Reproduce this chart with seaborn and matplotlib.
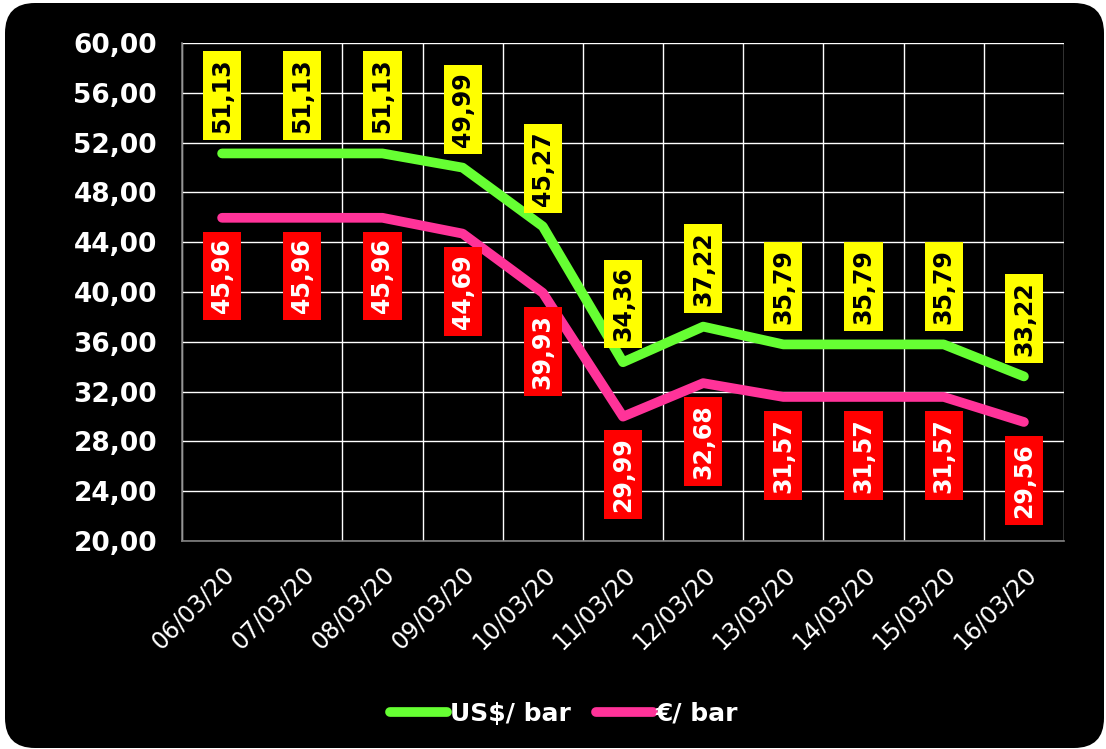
import numpy as np
import pandas as pd
import matplotlib
matplotlib.use("Agg")
import matplotlib.pyplot as plt
import seaborn as sns
from matplotlib.patches import FancyBboxPatch
from matplotlib.ticker import FixedLocator

# data
dates = ["06/03/20", "07/03/20", "08/03/20", "09/03/20", "10/03/20", "11/03/20",
         "12/03/20", "13/03/20", "14/03/20", "15/03/20", "16/03/20"]
usd_bar = [51.13, 51.13, 51.13, 49.99, 45.27, 34.36, 37.22, 35.79, 35.79, 35.79, 33.22]
eur_bar = [45.96, 45.96, 45.96, 44.69, 39.93, 29.99, 32.68, 31.57, 31.57, 31.57, 29.56]
series_names = ["US$/ bar", "€/ bar"]
y_ticks = [20, 24, 28, 32, 36, 40, 44, 48, 52, 56, 60]

df = pd.DataFrame({
    "pos": list(range(len(dates))) * 2,
    "value": usd_bar + eur_bar,
    "serie": [series_names[0]] * len(dates) + [series_names[1]] * len(dates),
})

GREEN = "#66FF33"
PINK = "#FF3399"

sns.set_style("dark")
plt.rcParams["font.family"] = ["DejaVu Sans"]

fig = plt.figure(figsize=(11.06, 7.49), dpi=100)
fig.patch.set_facecolor("white")

# black rounded background (behind the axes)
bg = FancyBboxPatch((0.05, 0.01), 10.99, 7.45, boxstyle="round,pad=0,rounding_size=0.3",
                    transform=fig.dpi_scale_trans, fc="black", ec="none", zorder=-10)
fig.patches.append(bg)

ax = fig.add_axes([182 / 1106, 1 - 541 / 749, (1064 - 182) / 1106, (541 - 43) / 749])
ax.set_facecolor("black")

sns.lineplot(data=df, x="pos", y="value", hue="serie", palette=[GREEN, PINK],
             linewidth=7, ax=ax, legend=True, zorder=3,
             solid_capstyle="round", solid_joinstyle="round")

ax.set_xlim(-0.5, len(dates) - 0.5)
ax.set_ylim(20, 60)
ax.set_yticks(y_ticks)
ax.set_yticklabels([f"{t:.2f}".replace(".", ",") for t in y_ticks],
                   fontsize=19, fontweight="bold", color="white")
ax.set_xticks(range(len(dates)))
ax.set_xticklabels(dates, rotation=45, ha="right", rotation_mode="anchor",
                   fontsize=17, color="white")
ax.set_xlabel("")
ax.set_ylabel("")

# category boundaries as minor ticks (one gridline is missing in the original)
bounds = [b for b in np.arange(-0.5, len(dates), 1.0) if b != 0.5]
ax.xaxis.set_minor_locator(FixedLocator(bounds))
ax.tick_params(axis="x", which="major", length=0, pad=15)
ax.tick_params(axis="x", which="minor", length=6, width=1, color="#808080", direction="out")
ax.tick_params(axis="y", which="major", length=6, width=1, color="#808080", direction="out", pad=12)

ax.grid(False)
ax.grid(axis="y", which="major", color="white", linewidth=1.0)
ax.grid(axis="x", which="minor", color="white", linewidth=1.0)

for s in ["top", "right"]:
    ax.spines[s].set_visible(False)
for s in ["left", "bottom"]:
    ax.spines[s].set_visible(True)
    ax.spines[s].set_color("#808080")
    ax.spines[s].set_linewidth(1.2)
    ax.spines[s].set_zorder(2.5)

# value labels
for i, v in enumerate(usd_bar):
    ax.annotate(f"{v:.2f}".replace(".", ","), (i, v), xytext=(0, 15),
                textcoords="offset points", rotation=90, ha="center", va="bottom",
                fontsize=17, fontweight="bold", color="black", zorder=5,
                bbox=dict(boxstyle="square,pad=0.3", fc="#FFFF00", ec="none"))
for i, v in enumerate(eur_bar):
    ax.annotate(f"{v:.2f}".replace(".", ","), (i, v), xytext=(0, -15),
                textcoords="offset points", rotation=90, ha="center", va="top",
                fontsize=17, fontweight="bold", color="white", zorder=5,
                bbox=dict(boxstyle="square,pad=0.3", fc="#FF0000", ec="none"))

# legend at the bottom
handles, labels = ax.get_legend_handles_labels()
ax.legend_.remove()
leg = fig.legend(handles, labels, loc="center", bbox_to_anchor=(0.51, 0.047), ncol=2,
                 frameon=False, fontsize=18, handlelength=2.3, handletextpad=0.1,
                 columnspacing=1.0)
for t in leg.get_texts():
    t.set_color("white")
    t.set_fontweight("bold")
for line in leg.get_lines():
    line.set_linewidth(7)
    line.set_solid_capstyle("round")

fig.savefig("out.png", dpi=100, facecolor=fig.get_facecolor())
